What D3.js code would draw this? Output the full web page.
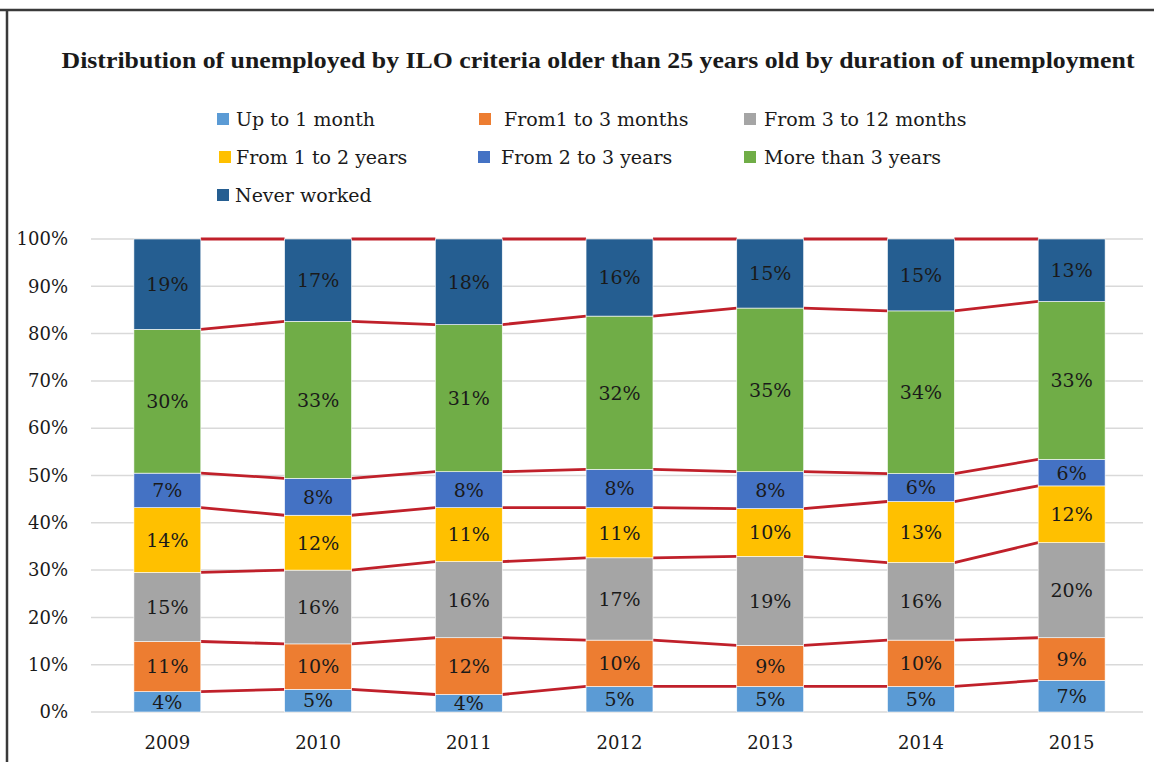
<!DOCTYPE html>
<html>
<head>
<meta charset="utf-8">
<script src="https://cdn.jsdelivr.net/npm/d3@7"></script>
<style>
  body { margin: 0; background: #fff; }
  text { font-family: "DejaVu Serif", serif; fill: #1a1a1a; }
</style>
</head>
<body>
<svg id="chart" width="1154" height="762"></svg>
<script>
// years on x axis
var years = ["2009", "2010", "2011", "2012", "2013", "2014", "2015"];

// shares in percent (bottom to top)
var upTo1Month    = [4.3, 4.8, 3.7, 5.4, 5.4, 5.4, 6.7];
var from1to3Month = [10.6, 9.6, 12.0, 9.8, 8.7, 9.8, 9.0];
var from3to12     = [14.6, 15.6, 16.1, 17.4, 18.8, 16.4, 20.1];
var from1to2Years = [13.7, 11.6, 11.4, 10.6, 10.1, 12.9, 12.0];
var from2to3Years = [7.3, 7.8, 7.6, 8.1, 7.8, 5.9, 5.6];
var moreThan3     = [30.4, 33.2, 31.1, 32.4, 34.6, 34.4, 33.4];
var neverWorked   = [19.1, 17.4, 18.1, 16.3, 14.6, 15.2, 13.2];

var seriesNames = ["Up to 1 month", "From1 to 3 months", "From 3 to 12 months",
                   "From 1 to 2 years", "From 2 to 3 years", "More than 3 years", "Never worked"];
var seriesValues = [upTo1Month, from1to3Month, from3to12, from1to2Years, from2to3Years, moreThan3, neverWorked];
var colors = ["#5b9bd5", "#ed7d31", "#a5a5a5", "#ffc000", "#4472c4", "#70ad47", "#255e91"];
var yTicks = [0, 10, 20, 30, 40, 50, 60, 70, 80, 90, 100];

var svg = d3.select("#chart");

// outer frame (only top and left edges visible)
svg.append("line").attr("x1", 0).attr("x2", 1154).attr("y1", 10).attr("y2", 10)
    .attr("stroke", "#3a3a3a").attr("stroke-width", 2.5);
svg.append("line").attr("x1", 7).attr("x2", 7).attr("y1", 10).attr("y2", 762)
    .attr("stroke", "#3a3a3a").attr("stroke-width", 2.5);

svg.append("text")
    .attr("x", 598).attr("y", 68)
    .attr("text-anchor", "middle")
    .attr("textLength", 1073).attr("lengthAdjust", "spacingAndGlyphs")
    .style("font-family", "'Liberation Serif', serif")
    .style("font-weight", "bold")
    .style("font-size", "23px")
    .text("Distribution of unemployed by ILO criteria older than 25 years old by duration of unemployment");

// legend
var legendPos = [[217, 119], [479, 119], [744, 119], [219, 157], [478, 157], [744, 157], [217, 195]];
var textOffset = [19, 25, 20, 17, 23, 20, 18];
var legend = svg.append("g").selectAll("g")
  .data(seriesNames)
  .enter().append("g")
    .attr("transform", function (d, i) { return "translate(" + legendPos[i][0] + "," + legendPos[i][1] + ")"; });
legend.append("rect")
    .attr("x", 0).attr("y", -6).attr("width", 12).attr("height", 12)
    .attr("fill", function (d, i) { return colors[i]; });
legend.append("text")
    .attr("x", function (d, i) { return textOffset[i]; })
    .attr("y", 6.5)
    .style("font-size", "19px")
    .text(function (d) { return d; });

// plot
var x = d3.scaleBand()
    .domain(years)
    .range([92, 1147])
    .paddingInner(0.556)
    .paddingOuter(0.278);

var y = d3.scaleLinear()
    .domain([0, 100])
    .range([712, 239]);

svg.append("g").selectAll("line")
  .data(yTicks)
  .enter().append("line")
    .attr("x1", 91).attr("x2", 1143)
    .attr("y1", function (d) { return y(d); })
    .attr("y2", function (d) { return y(d); })
    .attr("stroke", "#d9d9d9")
    .attr("stroke-width", 1.5);

var yAxis = svg.append("g")
    .attr("transform", "translate(70,0)")
    .call(d3.axisLeft(y).tickValues(yTicks).tickSize(0).tickFormat(function (d) { return d + "%"; }));
yAxis.select(".domain").remove();
yAxis.selectAll("text").attr("x", -2).style("font-size", "18px").style("font-family", "'DejaVu Serif', serif").attr("fill", "#1a1a1a");

var xAxis = svg.append("g")
    .attr("transform", "translate(0,730)")
    .call(d3.axisBottom(x).tickSize(0));
xAxis.select(".domain").remove();
xAxis.selectAll("text").attr("dy", "0.9em").style("font-size", "18px").style("font-family", "'DejaVu Serif', serif").attr("fill", "#1a1a1a");

// stack the data
var rows = years.map(function (yr, j) {
  var r = { year: yr };
  seriesNames.forEach(function (s, i) { r[s] = seriesValues[i][j]; });
  return r;
});
var stacked = d3.stack().keys(seriesNames)(rows);

// series lines between bars
var lines = svg.append("g");
stacked.forEach(function (layer) {
  for (var j = 0; j < years.length - 1; j++) {
    lines.append("line")
        .attr("x1", x(years[j]) + x.bandwidth())
        .attr("x2", x(years[j + 1]))
        .attr("y1", y(layer[j][1]))
        .attr("y2", y(layer[j + 1][1]))
        .attr("stroke", "#c0202a")
        .attr("stroke-width", 2.8);
  }
});

var layers = svg.append("g").selectAll("g")
  .data(stacked)
  .enter().append("g")
    .attr("fill", function (d, i) { return colors[i]; });

layers.selectAll("rect")
  .data(function (d) { return d; })
  .enter().append("rect")
    .attr("x", function (d) { return x(d.data.year); })
    .attr("width", x.bandwidth())
    .attr("y", function (d) { return y(d[1]); })
    .attr("height", function (d) { return y(d[0]) - y(d[1]); })
    .attr("stroke", "#ffffff")
    .attr("stroke-width", 0.6);

layers.selectAll("text")
  .data(function (d) { return d; })
  .enter().append("text")
    .attr("x", function (d) { return x(d.data.year) + x.bandwidth() / 2; })
    .attr("y", function (d) { return (y(d[0]) + y(d[1])) / 2; })
    .attr("dy", "0.36em")
    .attr("text-anchor", "middle")
    .style("font-size", "19px")
    .style("fill", "#1a1a1a")
    .text(function (d) { return Math.round(d[1] - d[0]) + "%"; });
</script>
</body>
</html>
